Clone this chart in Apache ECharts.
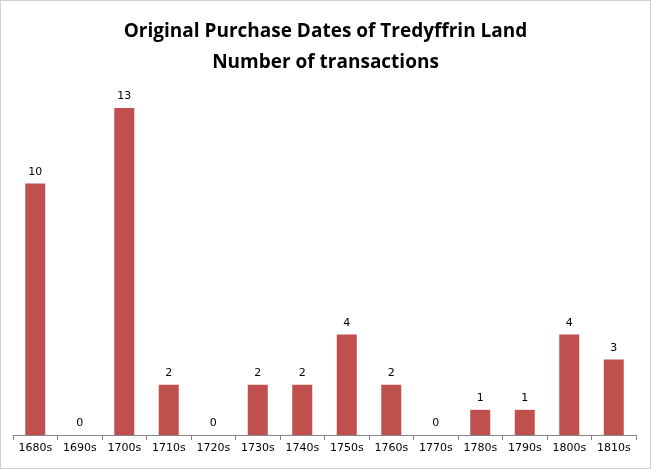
<!DOCTYPE html>
<html>
<head>
<meta charset="utf-8">
<script src="https://cdn.jsdelivr.net/npm/echarts@6/dist/echarts.min.js"></script>
<style>
html,body{margin:0;padding:0;background:#fff;}
#chart{width:649px;height:467px;border:1px solid #d0d0d0;}
</style>
</head>
<body>
<div id="chart"></div>
<script>
var categories = ['1680s','1690s','1700s','1710s','1720s','1730s','1740s','1750s','1760s','1770s','1780s','1790s','1800s','1810s'];
var transactions = [10,0,13,2,0,2,2,4,2,0,1,1,4,3];

var myChart = echarts.init(document.getElementById('chart'));
var option = {
    backgroundColor: '#fff',
    animation: false,
    title: {
        text: 'Original Purchase Dates of Tredyffrin Land\nNumber of transactions',
        left: 'center',
        top: 10,
        textStyle: {
            fontFamily: 'Open Sans',
            fontWeight: 'bold',
            fontSize: 19,
            lineHeight: 31,
            color: '#000'
        }
    },
    grid: {
        top: 107,
        bottom: 33,
        left: 12,
        right: 14
    },
    xAxis: {
        type: 'category',
        data: categories,
        axisLine: { lineStyle: { color: '#868686' } },
        axisTick: { show: true, alignWithLabel: false, lineStyle: { color: '#868686' } },
        axisLabel: { color: '#000', fontSize: 11, fontFamily: 'DejaVu Sans', interval: 0, margin: 8 }
    },
    yAxis: {
        type: 'value',
        min: 0,
        max: 13,
        show: false
    },
    series: [{
        type: 'bar',
        data: transactions,
        barWidth: 20,
        itemStyle: { color: '#C0504D' },
        label: {
            show: true,
            position: 'top',
            distance: 6,
            color: '#000',
            fontSize: 11,
            fontFamily: 'DejaVu Sans'
        }
    }]
};
myChart.setOption(option);
</script>
</body>
</html>
